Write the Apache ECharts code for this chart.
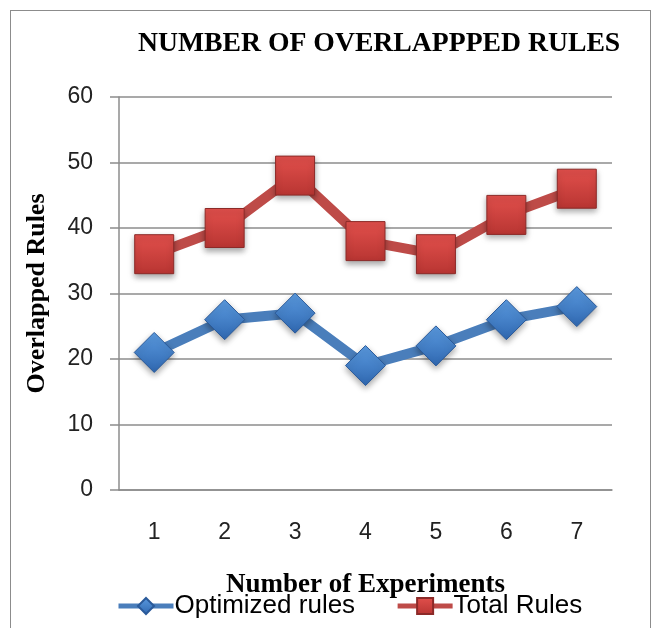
<!DOCTYPE html>
<html lang="en">
<head>
    <meta charset="UTF-8">
    <title>Number of overlapped rules</title>
    <script src="https://cdn.jsdelivr.net/npm/echarts@6/dist/echarts.min.js"></script>
    <style>
        html, body { margin: 0; padding: 0; background: #fff; }
        #frame {
            position: absolute; left: 10px; top: 10px; width: 641px; height: 640px;
            border: 1.5px solid #8c8c8c; box-sizing: border-box;
        }
        #chart { position: absolute; left: 0; top: 0; width: 653px; height: 628px; }
    </style>
</head>
<body>
    <div id="frame"></div>
    <div id="chart"></div>
    <script>
        // data
        var experiments = ['1', '2', '3', '4', '5', '6', '7'];
        var optimizedRules = [21, 26, 27, 19, 22, 26, 28];
        var totalRules = [36, 40, 48, 38, 36, 42, 46];
        var yTicks = [0, 10, 20, 30, 40, 50, 60];

        var serif = 'Liberation Serif';
        var sans = 'Liberation Sans';

        function grad(top, bottom) {
            return new echarts.graphic.LinearGradient(0, 0, 0, 1, [
                { offset: 0, color: top },
                { offset: 1, color: bottom }
            ]);
        }

        var myChart = echarts.init(document.getElementById('chart'));

        var option = {
            animation: false,
            title: {
                text: 'NUMBER OF OVERLAPPPED RULES',
                left: 133,
                top: 25,
                textStyle: { fontFamily: serif, fontWeight: 'bold', fontSize: 27.7, color: '#000' }
            },
            legend: {
                bottom: 4,
                left: 111,
                itemWidth: 55,
                itemHeight: 20,
                itemGap: 40,
                lineStyle: { width: 5 },
                textStyle: { fontFamily: sans, fontSize: 26, color: '#000', padding: [0, 0, 0, -4] },
                data: ['Optimized rules', 'Total Rules']
            },
            grid: { left: 119, right: 41, top: 97, bottom: 138 },
            xAxis: {
                type: 'category',
                data: experiments,
                name: 'Number of Experiments',
                nameLocation: 'middle',
                nameGap: 82,
                nameTextStyle: { fontFamily: serif, fontWeight: 'bold', fontSize: 27, color: '#000' },
                axisLine: { lineStyle: { color: '#8c8c8c', width: 1.5 } },
                axisTick: { show: false },
                axisLabel: { fontFamily: sans, fontSize: 23, color: '#222', margin: 31 }
            },
            yAxis: {
                type: 'value',
                min: yTicks[0],
                max: yTicks[yTicks.length - 1],
                interval: 10,
                name: 'Overlapped Rules',
                nameLocation: 'middle',
                nameGap: 69,
                nameTextStyle: { fontFamily: serif, fontWeight: 'bold', fontSize: 26, color: '#000' },
                axisLine: { show: true, lineStyle: { color: '#8c8c8c', width: 1.5 } },
                axisTick: { show: true, length: 9, lineStyle: { color: '#8c8c8c', width: 1.5 } },
                splitLine: { lineStyle: { color: '#8c8c8c', width: 1.5 } },
                axisLabel: { fontFamily: sans, fontSize: 23, color: '#222', margin: 26 }
            },
            series: [{
                name: 'Optimized rules',
                type: 'line',
                data: optimizedRules,
                symbol: 'diamond',
                symbolSize: 40,
                lineStyle: { color: '#4a7ebb', width: 10 },
                itemStyle: {
                    color: grad('#5b9be0', '#2f67b0'),
                    borderColor: '#2a5a9a',
                    borderWidth: 1,
                    shadowBlur: 6,
                    shadowColor: 'rgba(0,0,0,0.35)',
                    shadowOffsetY: 3
                }
            }, {
                name: 'Total Rules',
                type: 'line',
                data: totalRules,
                symbol: 'rect',
                symbolSize: 39,
                lineStyle: { color: '#be4b48', width: 10 },
                itemStyle: {
                    color: grad('#e2504c', '#b83532'),
                    borderColor: '#8c2a28',
                    borderWidth: 1,
                    shadowBlur: 6,
                    shadowColor: 'rgba(0,0,0,0.35)',
                    shadowOffsetY: 3
                }
            }]
        };

        myChart.setOption(option);
    </script>
</body>
</html>
